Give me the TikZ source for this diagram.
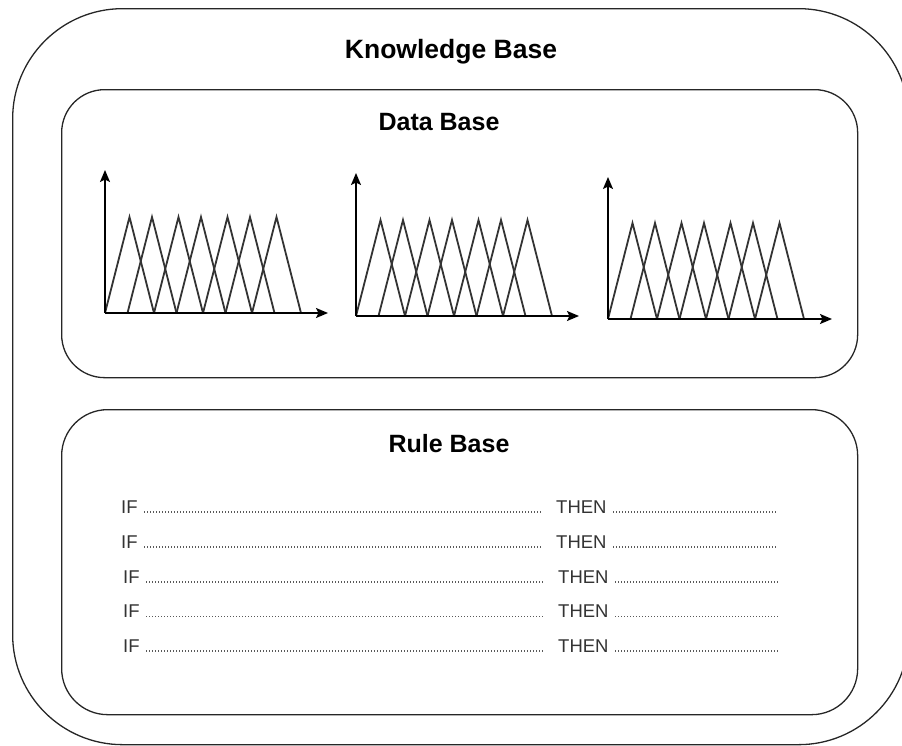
\documentclass[tikz,border=0pt]{standalone}
\usepackage{fontspec}
\setmainfont{Liberation Sans}
\usetikzlibrary{arrows.meta}
\begin{document}
\begin{tikzpicture}[x=1pt,y=-1pt,
  panel/.style={draw=black!85, line width=1.3pt, rounded corners=#1, inner sep=0pt, anchor=north west},
  title/.style={font=\fontsize{25}{29}\selectfont\bfseries, anchor=base, inner sep=0pt},
  axis/.style={line width=1.8pt, -{Stealth[length=12pt,width=10pt,inset=2.5pt]}},
  mf/.style={line width=1.8pt, black!80, line join=miter},
  ruletxt/.style={font=\fontsize{18.5}{22}\selectfont, text=black!80, anchor=base west, inner sep=0pt},
  dots/.style={black!65, line width=1.1pt, dash pattern=on 1pt off 2pt}
]
\useasboundingbox (0,0) rectangle (902,745);

% containers
\node[panel=110pt, minimum width=896pt, minimum height=736pt] (kb) at (12,8) {};
\node[panel=43pt, minimum width=796pt, minimum height=288pt] (db) at (61,89) {};
\node[panel=46pt, minimum width=796pt, minimum height=305pt] (rb) at (61,409) {};

% titles
\node[title, font=\fontsize{26.5}{30}\selectfont\bfseries] (kbt) at (451,58) {Knowledge Base};
\node[title] (dbt) at (439,130) {Data Base};
\node[title] (rbt) at (449,452) {Rule Base};

% membership function charts
\foreach \ox/\oy/\yt/\xt [count=\c] in {105/313/170/328, 356/316/173/579, 608/319/177/832} {
  \coordinate (o\c) at (\ox,\oy);
  \coordinate (yt\c) at (\ox,\yt);
  \coordinate (xt\c) at (\xt,\oy);
  \begin{scope}[shift={(o\c)}]
    \foreach \k in {0,...,6} {
      \pgfmathsetmacro\s{int(\k/2)*49 + mod(\k,2)*22.5}
      \draw[mf] (\s,0) -- ++(24.5,-96) -- ++(24.5,96);
    }
  \end{scope}
  \draw[axis] (o\c) -- (yt\c);
  \draw[axis] (o\c) -- (xt\c);
}

% rules
\foreach \yb/\dx [count=\r] in {513/0, 548/0, 583/2, 617.5/2, 652/2} {
  \node[ruletxt] (if\r) at (121+\dx,\yb) {IF};
  \node[ruletxt] (then\r) at (556+\dx,\yb) {THEN};
  \coordinate (e\r) at (777+\dx,\yb-1);
  \draw[dots] ([xshift=6.5pt,yshift=1pt]if\r.base east) -- ([xshift=-13pt,yshift=1pt]then\r.base west);
  \draw[dots] ([xshift=6.5pt,yshift=1pt]then\r.base east) -- (e\r);
}
\end{tikzpicture}
\end{document}
